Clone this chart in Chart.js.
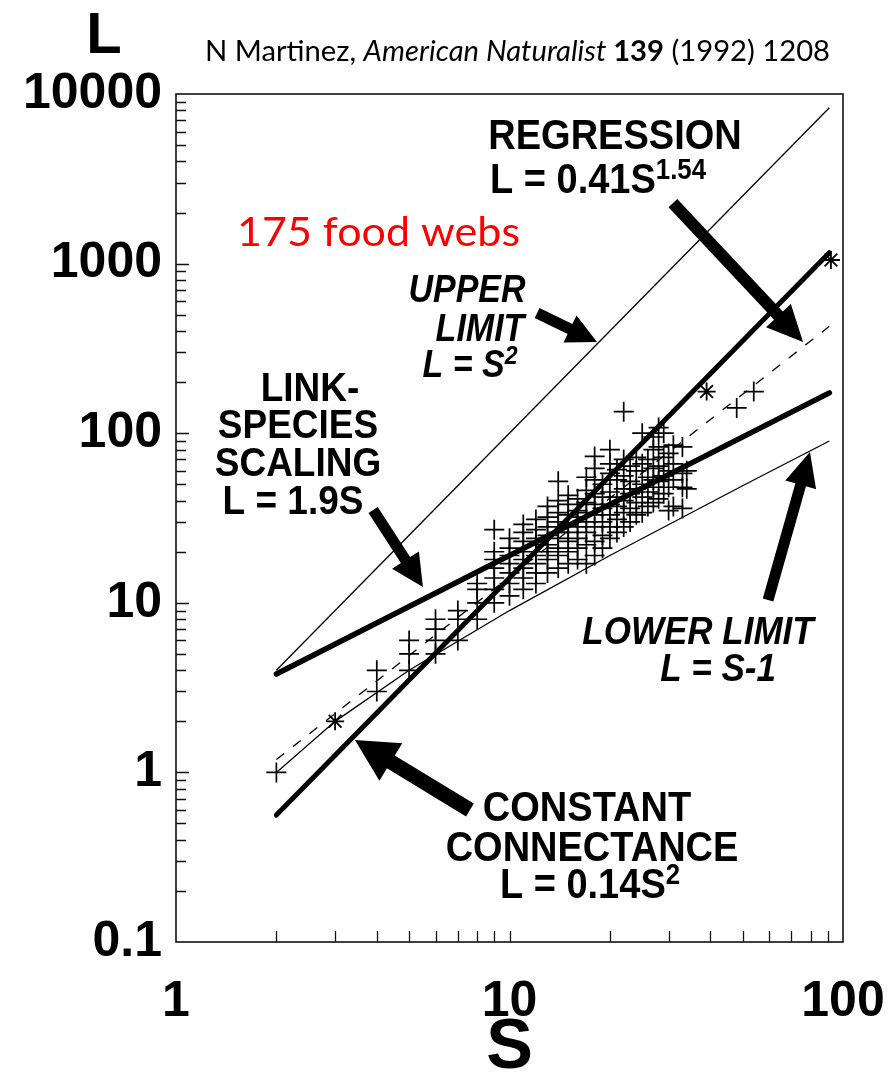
<!DOCTYPE html>
<html><head><meta charset="utf-8">
<script src="https://cdn.jsdelivr.net/npm/chart.js@4.4.1/dist/chart.umd.min.js"></script>
<style>html,body{margin:0;padding:0;background:#fff;}#wrap{width:891px;height:1086px;position:relative;}canvas{display:block;}</style>
</head><body><div id="wrap"><canvas id="c" width="891" height="1086"></canvas></div>
<script>
// ---- data ----
const webS = [2,4,5,6,7,8,9,10,11,12,13,14,15,16,17,18,19,20,21,22,23,24,25,26,27,28,29,30,31,33,34,48,54];
const webLinks = [
  [1],[3,4],[4,5,6],[5,6,7,8],[6,8,9],[8,10,12,13],
  [10,12,14,16,18,20,27],
  [11,13,15,17,19,21,24],
  [12,14,16,18,20,23,26,29],
  [13,15,17,19,22,24,27,31],
  [15,18,20,22,25,28,32,37],
  [16,19,21,24,26,30,34,40,52],
  [17,20,23,26,29,33,38,43],
  [18,21,24,28,32,35,41],
  [17,22,26,30,34,39,46,55],
  [19,23,28,33,38,44,53,62,73],
  [21,25,30,36,42,50],
  [24,28,33,38,45,58,66,80],
  [26,31,37,42,53,61],
  [28,34,40,47,56,70,134],
  [30,36,44,52,64],
  [33,39,47,60,72],
  [34,42,50,66,100],
  [37,45,55,70],
  [39,48,53,62,80,95],
  [41,52,64,83,108],
  [44,56,72,100],
  [35,48,60,76],
  [37,53,66,85],
  [36,48,58,83],
  [47,60],[141],[176]
];
const starS = [3, 39, 92];
const starL = [2, 176, 1050];
const lineS = [2, 91];
const upperLimitL = [4, 8300];
const linkSpeciesL = [3.8, 173];
const connectanceL = [0.56, 1160];
const regressionL = [1.19, 427];
const lowerLimitS = [2, 3, 5, 10, 20, 50, 91];
const lowerLimitL = [1, 2, 4, 9, 19, 49, 90];
const xTickValues = [1, 10, 100];
const xTickLabels = ['1', '10', '100'];
const yTickValues = [0.1, 1, 10, 100, 1000, 10000];
const yTickLabels = ['0.1', '1', '10', '100', '1000', '10000'];

// arrows, in data coordinates (S, L)
const arrows = [
  {from:[30.9,2275], to:[75.9,345], shaft:12, head:34, len:36},
  {from:[12.1,511],  to:[18.3,345], shaft:11, head:30, len:30},
  {from:[3.9,35.2],  to:[5.5,12.4], shaft:11, head:32, len:32},
  {from:[7.61,0.60], to:[3.44,1.55], shaft:15, head:44, len:42},
  {from:[59.6,10.4], to:[79.6,77.4], shaft:11, head:32, len:34}
];

const BF = "'Liberation Sans', Arial, sans-serif";
const texts = [
  {parts:[['REGRESSION']], x:615, y:149, size:38, align:'center'},
  {parts:[['L = 0.41S'],['1.54',1]], x:490, y:193, size:38, align:'left'},
  {parts:[['UPPER']], x:467, y:302, size:34, italic:1, align:'center'},
  {parts:[['LIMIT']], x:480, y:341, size:34, italic:1, align:'center'},
  {parts:[['L = S'],['2',1]], x:470, y:377, size:34, italic:1, align:'center'},
  {parts:[['LINK-']], x:310, y:401, size:37, align:'center'},
  {parts:[['SPECIES']], x:298, y:438, size:37, align:'center'},
  {parts:[['SCALING']], x:298, y:476, size:37, align:'center'},
  {parts:[['L = 1.9S']], x:293, y:514, size:37, align:'center'},
  {parts:[['LOWER LIMIT']], x:698, y:644, size:35, italic:1, align:'center'},
  {parts:[['L = S-1']], x:718, y:681, size:35, italic:1, align:'center'},
  {parts:[['CONSTANT']], x:587, y:821, size:38, align:'center'},
  {parts:[['CONNECTANCE']], x:592, y:861, size:38, align:'center'},
  {parts:[['L = 0.14S'],['2',1]], x:590, y:898, size:38, align:'center'}
];

const webPoints = webS.flatMap((s,i)=>webLinks[i].map(l=>({x:s,y:l})));
const starPoints = starS.map((s,i)=>({x:s,y:starL[i]}));
const mk = (ys)=>lineS.map((s,i)=>({x:s,y:ys[i]}));

function drawRich(ctx, t){
  const st = (t.italic?'italic ':'')+'bold ';
  let total = 0;
  const widths = t.parts.map(p=>{
    const sz = p[1]? t.size*0.68 : t.size;
    ctx.font = st+sz+'px '+BF;
    const w = ctx.measureText(p[0]).width; total += w; return w;
  });
  let x = t.align==='center' ? t.x - total/2 : t.x;
  ctx.fillStyle = '#000';
  ctx.textBaseline = 'alphabetic';
  ctx.textAlign = 'left';
  t.parts.forEach((p,i)=>{
    const sz = p[1]? t.size*0.68 : t.size;
    ctx.font = st+sz+'px '+BF;
    ctx.save();
    const yy = p[1] ? t.y - t.size*0.38 : t.y;
    ctx.translate(x, yy); ctx.scale(1, 1.12);
    ctx.fillText(p[0], 0, 0);
    ctx.restore();
    x += widths[i];
  });
}
function fitText(ctx, str, x, y, w, font, color){
  ctx.font = font; ctx.fillStyle = color; ctx.textAlign='left'; ctx.textBaseline='alphabetic';
  const m = ctx.measureText(str).width;
  ctx.save(); ctx.translate(x,y); ctx.scale(w/m,1); ctx.fillText(str,0,0); ctx.restore();
}

const decor = {
  id:'decor',
  afterDraw(chart){
    const {ctx, chartArea:a, scales:{x, y}} = chart;
    ctx.save();
    // frame
    ctx.strokeStyle = '#111'; ctx.lineWidth = 1.6;
    ctx.strokeRect(a.left, a.top, a.right-a.left, a.bottom-a.top);
    // inner ticks
    ctx.lineWidth = 1.3;
    ctx.beginPath();
    for (let d=0.1; d<10000; d*=10){
      for (let m=1; m<10; m++){
        const py = Math.round(y.getPixelForValue(m*d))+0.5;
        if (py < a.top+1 || py > a.bottom-1) continue;
        const len = m===1 ? 13 : 10;
        ctx.moveTo(a.left, py); ctx.lineTo(a.left+len, py);
      }
    }
    for (let d=1; d<100; d*=10){
      for (let m=1; m<10; m++){
        const px = Math.round(x.getPixelForValue(m*d))+0.5;
        if (px < a.left+1 || px > a.right-1) continue;
        ctx.moveTo(px, a.bottom); ctx.lineTo(px, a.bottom-11);
      }
    }
    ctx.stroke();
    // arrows
    ctx.fillStyle = '#000';
    arrows.forEach(ar=>{
      const x0 = x.getPixelForValue(ar.from[0]), y0 = y.getPixelForValue(ar.from[1]);
      const x1 = x.getPixelForValue(ar.to[0]), y1 = y.getPixelForValue(ar.to[1]);
      const dx = x1-x0, dy = y1-y0, L = Math.hypot(dx,dy);
      const ux = dx/L, uy = dy/L, nx = -uy, ny = ux;
      const bx = x1-ux*ar.len, by = y1-uy*ar.len;
      const s = ar.shaft/2, h = ar.head/2;
      ctx.beginPath();
      ctx.moveTo(x0+nx*s, y0+ny*s);
      ctx.lineTo(bx+nx*s, by+ny*s);
      ctx.lineTo(bx+nx*h, by+ny*h);
      ctx.lineTo(x1, y1);
      ctx.lineTo(bx-nx*h, by-ny*h);
      ctx.lineTo(bx-nx*s, by-ny*s);
      ctx.lineTo(x0-nx*s, y0-ny*s);
      ctx.closePath(); ctx.fill();
    });
    // texts
    texts.forEach(t=>drawRich(ctx,t));
    // axis letter L
    ctx.font = 'bold 58px '+BF; ctx.fillStyle='#000'; ctx.textAlign='center'; ctx.textBaseline='alphabetic';
    ctx.fillText('L', 104, 53);
    // citation
    const lf = "Lato, 'Open Sans', sans-serif";
    const seg = [['N Martinez, ','normal'],['American Naturalist ','italic'],['139','bold'],[' (1992) 1208','normal']];
    let tw = 0; const ws = seg.map(s=>{ctx.font=(s[1]==='normal'?'':s[1]+' ')+'28px '+lf; const w=ctx.measureText(s[0]).width; tw+=w; return w;});
    const sc = 625/tw; let cx = 205;
    seg.forEach((s,i)=>{ ctx.font=(s[1]==='normal'?'':s[1]+' ')+'28px '+lf; ctx.save(); ctx.translate(cx,61); ctx.scale(sc,1); ctx.textAlign='left'; ctx.fillText(s[0],0,0); ctx.restore(); cx += ws[i]*sc; });
    // red annotation
    fitText(ctx, '175 food webs', 237, 246, 283, '40px '+lf, '#ff0000');
    ctx.restore();
  }
};

const zeroPad = (s)=>{ s.paddingLeft = 0; s.paddingRight = 0; s.paddingTop = 0; s.paddingBottom = 0; };
const thin = {showLine:true, pointRadius:0, borderColor:'#000', fill:false, tension:0};
new Chart(document.getElementById('c'), {
  type:'scatter',
  data:{datasets:[
    {...thin, label:'upper', data:mk(upperLimitL), borderWidth:1.3},
    {...thin, label:'lower', data:lowerLimitS.map((s,i)=>({x:s,y:lowerLimitL[i]})), borderWidth:1.3},
    {...thin, label:'link', data:mk(linkSpeciesL), borderWidth:5.5, borderCapStyle:'round'},
    {...thin, label:'connect', data:mk(connectanceL), borderWidth:5, borderCapStyle:'round'},
    {...thin, label:'regression', data:mk(regressionL), borderWidth:1.3, borderDash:[10,11]},
    {label:'webs', data:webPoints, pointStyle:'cross', pointRadius:10, borderWidth:1.7, borderColor:'#000', backgroundColor:'#000'},
    {label:'stars', data:starPoints, pointStyle:'star', pointRadius:9, borderWidth:1.8, borderColor:'#000', backgroundColor:'#000'}
  ]},
  options:{
    responsive:false, animation:false, maintainAspectRatio:false,
    layout:{padding:{top:94, right:48, left:0, bottom:0}},
    plugins:{legend:{display:false}, tooltip:{enabled:false}},
    scales:{
      x:{type:'logarithmic', min:1, max:100, position:'bottom',
        afterBuildTicks:(s)=>{s.ticks = xTickValues.map(v=>({value:v}));},
        afterFit:(s)=>{s.height = 144; zeroPad(s);},
        grid:{display:false, drawTicks:false}, border:{display:false},
        ticks:{autoSkip:false, maxRotation:0, padding:30, color:'#000',
          font:{family:BF, weight:'bold', size:50},
          callback:(v)=>{const i=xTickValues.indexOf(v); return i<0?'':xTickLabels[i];}},
        title:{display:true, text:'S', color:'#000', font:{family:BF, weight:'bold', size:70, lineHeight:1}, padding:{top:0,bottom:2}}
      },
      y:{type:'logarithmic', min:0.1, max:10000,
        afterBuildTicks:(s)=>{s.ticks = yTickValues.map(v=>({value:v}));},
        afterFit:(s)=>{s.width = 176; zeroPad(s);},
        grid:{display:false, drawTicks:false}, border:{display:false},
        ticks:{autoSkip:false, padding:14, color:'#000',
          font:{family:BF, weight:'bold', size:50},
          callback:(v)=>{const i=yTickValues.indexOf(v); return i<0?'':yTickLabels[i];}}
      }
    }
  },
  plugins:[decor]
});
</script></body></html>
